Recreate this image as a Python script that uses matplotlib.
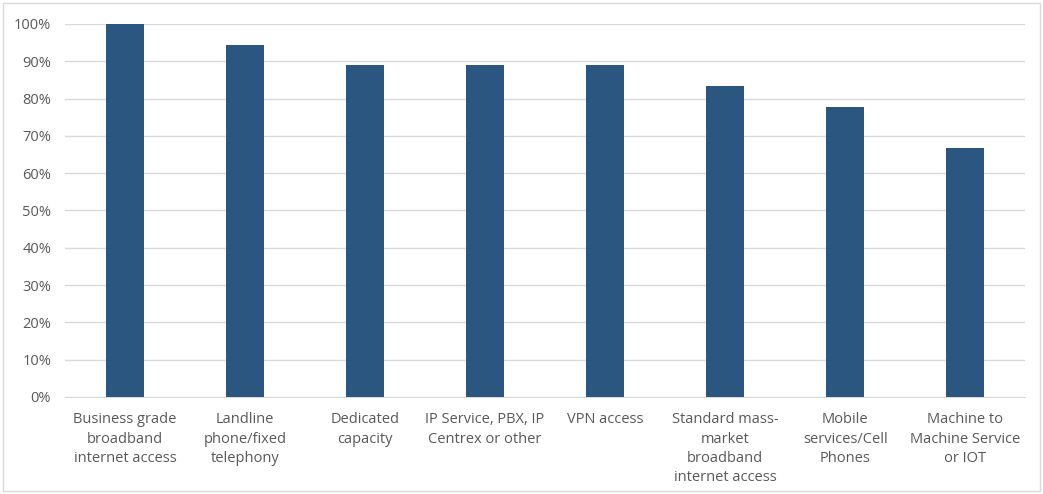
import matplotlib
matplotlib.use("Agg")
import matplotlib.pyplot as plt
from matplotlib.patches import Rectangle
from matplotlib.ticker import PercentFormatter

categories = [
    "Business grade\nbroadband\ninternet access",
    "Landline\nphone/fixed\ntelephony",
    "Dedicated\ncapacity",
    "IP Service, PBX, IP\nCentrex or other",
    "VPN access",
    "Standard mass-\nmarket\nbroadband\ninternet access",
    "Mobile\nservices/Cell\nPhones",
    "Machine to\nMachine Service\nor IOT",
]
shares = [100.0, 94.4, 88.9, 88.9, 88.9, 83.3, 77.8, 66.7]

plt.rcParams["font.family"] = ["Open Sans", "DejaVu Sans"]

fig = plt.figure(figsize=(10.43, 4.94), dpi=100)
ax = fig.add_axes([0.0623, 0.1964, 0.9207, 0.7551])

x = range(len(categories))
ax.bar(x, shares, width=0.32, color="#2B5680", zorder=3)

ax.set_xlim(-0.5, len(categories) - 0.5)
ax.set_ylim(0, 100)
ax.set_yticks(range(0, 101, 10))
ax.yaxis.set_major_formatter(PercentFormatter(decimals=0))
ax.set_xticks(list(x))
ax.set_xticklabels(categories, fontsize=10.5, color="#595959", linespacing=1.4)
ax.tick_params(axis="y", labelsize=10.5, colors="#595959", length=0, pad=10)
ax.tick_params(axis="x", length=0, pad=11)

ax.grid(axis="y", color="#D9D9D9", linewidth=1, zorder=0)
for side in ["top", "right", "left"]:
    ax.spines[side].set_visible(False)
ax.spines["bottom"].set_color("#D9D9D9")

# thin frame around the whole chart
fig.patches.append(Rectangle((0.003, 0.006), 0.994, 0.988, transform=fig.transFigure,
                             fill=False, edgecolor="#D9D9D9", linewidth=1))

fig.savefig("out.png", dpi=100)
